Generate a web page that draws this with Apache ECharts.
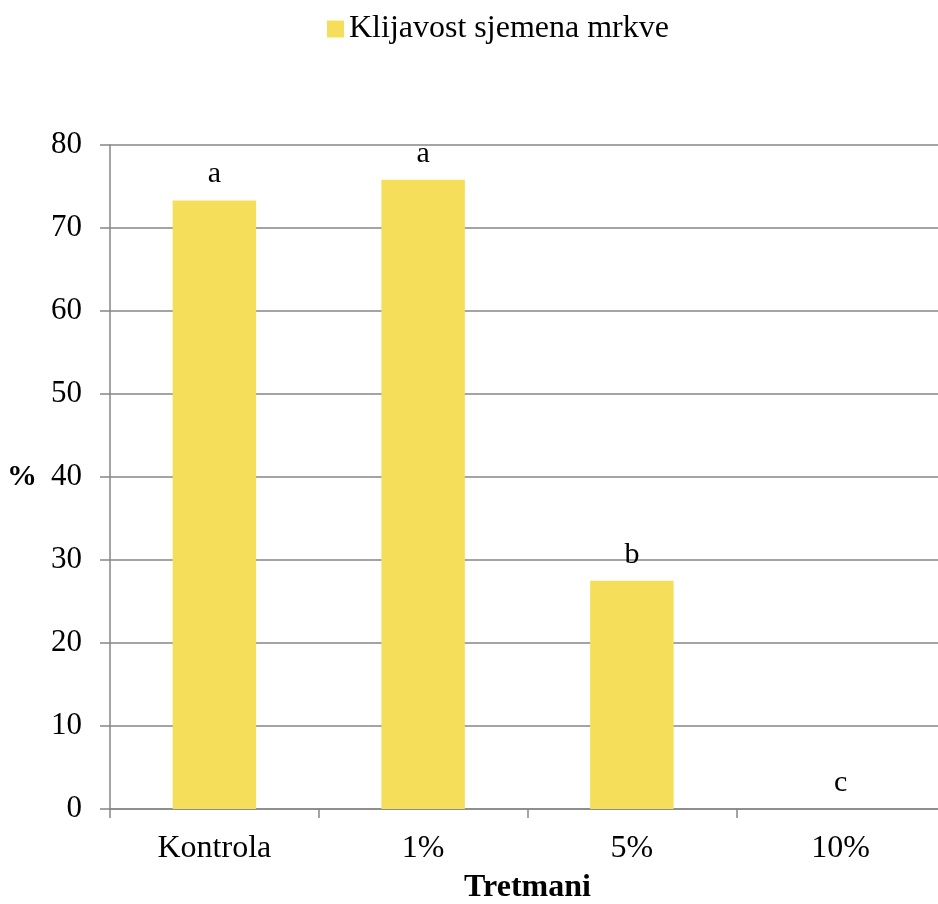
<!DOCTYPE html>
<html>
<head>
<meta charset="utf-8">
<script src="https://cdn.jsdelivr.net/npm/echarts@6/dist/echarts.min.js"></script>
<style>html,body{margin:0;padding:0;background:#fff}#c{width:938px;height:904px}</style>
</head>
<body>
<div id="c"></div>
<script>
const categories = ['Kontrola', '1%', '5%', '10%'];
const values = [73.3, 75.8, 27.5, 0];
const letters = ['a', 'a', 'b', 'c'];
const seriesName = 'Klijavost sjemena mrkve';
const yTicks = [0, 10, 20, 30, 40, 50, 60, 70, 80];

const font = '"Liberation Serif", "Times New Roman", serif';
const axisColor = '#868686';
const chart = echarts.init(document.getElementById('c'));
chart.setOption({
  animation: false,
  textStyle: { fontFamily: font },
  legend: {
    data: [seriesName],
    top: 8,
    left: 322,
    icon: 'rect',
    itemWidth: 17,
    itemHeight: 17,
    itemGap: 5,
    textStyle: { fontFamily: font, fontSize: 32, color: '#000' }
  },
  grid: { left: 110, top: 145, width: 835, height: 664, outerBoundsMode: 'none', containLabel: false },
  xAxis: {
    type: 'category',
    data: categories,
    name: 'Tretmani',
    nameLocation: 'middle',
    nameGap: 63,
    nameTextStyle: { fontFamily: font, fontSize: 32, fontWeight: 'bold', color: '#000' },
    axisLine: { lineStyle: { color: axisColor, width: 1.5 } },
    axisTick: { show: true, length: 9, lineStyle: { color: axisColor, width: 1.5 } },
    axisLabel: { fontFamily: font, fontSize: 32, color: '#000', margin: 24 }
  },
  yAxis: {
    type: 'value',
    min: yTicks[0],
    max: yTicks[yTicks.length - 1],
    interval: 10,
    name: '%',
    nameLocation: 'middle',
    nameRotate: 0,
    nameGap: 73,
    nameTextStyle: { fontFamily: font, fontSize: 30, fontWeight: 'bold', color: '#000' },
    axisLine: { show: true, lineStyle: { color: axisColor, width: 1.5 } },
    axisTick: { show: true, length: 10, lineStyle: { color: axisColor, width: 1.5 } },
    axisLabel: { fontFamily: font, fontSize: 31, color: '#000', margin: 28 },
    splitLine: { show: true, lineStyle: { color: axisColor, width: 1.5 } }
  },
  series: [{
    name: seriesName,
    type: 'bar',
    data: values,
    barWidth: '40%',
    itemStyle: { color: '#F5DF5A' },
    label: {
      show: true,
      position: 'top',
      distance: 11,
      fontFamily: font,
      fontSize: 30,
      color: '#000',
      formatter: p => letters[p.dataIndex]
    }
  }]
});
</script>
</body>
</html>
